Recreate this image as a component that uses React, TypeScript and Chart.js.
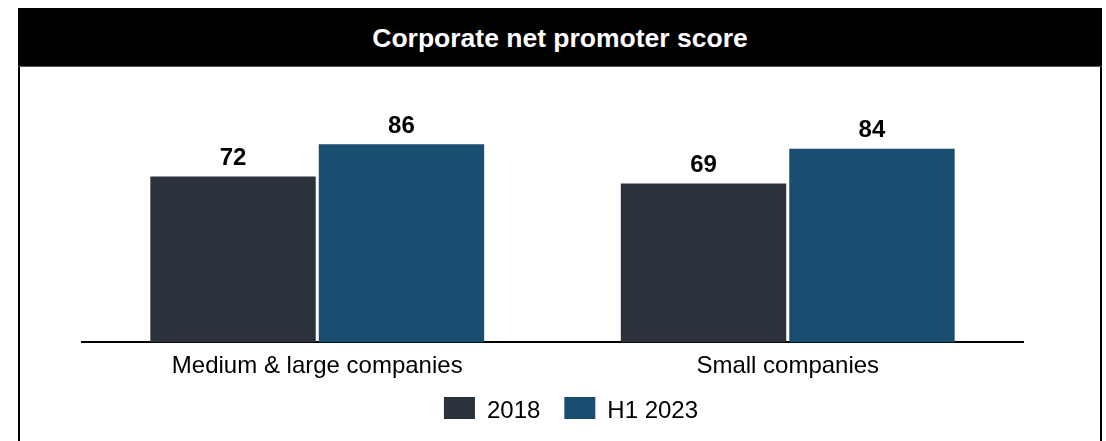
import React, { useEffect, useRef } from "react";
import { Chart, registerables } from "chart.js";

Chart.register(...registerables);

const TITLE = "Corporate net promoter score";
const categories = ["Medium & large companies", "Small companies"];
const seriesNames = ["2018", "H1 2023"];
const values2018 = [72, 69];
const valuesH12023 = [86, 84];
const seriesColors = ["#2b323b", "#1a4e70"];

const FONT = "'Liberation Sans', Arial, Helvetica, sans-serif";

const valueLabels = {
  id: "valueLabels",
  afterDatasetsDraw(chart: any) {
    const ctx = chart.ctx;
    ctx.save();
    ctx.font = `bold 24px ${FONT}`;
    ctx.fillStyle = "#000";
    ctx.textAlign = "center";
    ctx.textBaseline = "alphabetic";
    chart.data.datasets.forEach((ds: any, i: number) => {
      const meta = chart.getDatasetMeta(i);
      meta.data.forEach((bar: any, j: number) => {
        ctx.fillText(String(ds.data[j]), bar.x, bar.y - 11.5);
      });
    });
    ctx.restore();
  },
};

// Legend drawn on the canvas from the datasets (labels + colours)
const bottomLegend = {
  id: "bottomLegend",
  afterDraw(chart: any) {
    const ctx = chart.ctx;
    const boxW = 31;
    const boxH = 22;
    const gapText = 12;
    const gapItem = 24;
    ctx.save();
    ctx.font = `24px ${FONT}`;
    const items = chart.data.datasets.map((ds: any) => ({
      text: ds.label,
      color: ds.backgroundColor,
      w: ctx.measureText(ds.label).width,
    }));
    const total =
      items.reduce((s: number, it: any) => s + boxW + gapText + it.w, 0) +
      gapItem * (items.length - 1);
    const center = (chart.chartArea.left + chart.scales.y.right) / 2;
    let x = center - total / 2;
    const boxTop = chart.height - 44;
    const baseline = boxTop + 20.8;
    items.forEach((it: any) => {
      ctx.fillStyle = it.color;
      ctx.fillRect(x, boxTop, boxW, boxH);
      x += boxW + gapText;
      ctx.fillStyle = "#000";
      ctx.textAlign = "left";
      ctx.textBaseline = "alphabetic";
      ctx.fillText(it.text, x, baseline);
      x += it.w + gapItem;
    });
    ctx.restore();
  },
};

export default function App() {
  const ref = useRef<HTMLCanvasElement | null>(null);

  useEffect(() => {
    if (!ref.current) return;
    const chart = new Chart(ref.current, {
      type: "bar",
      data: {
        labels: categories,
        datasets: [
          {
            label: seriesNames[0],
            data: values2018,
            backgroundColor: seriesColors[0],
            borderWidth: 0,
            categoryPercentage: 0.716,
            barPercentage: 0.982,
          },
          {
            label: seriesNames[1],
            data: valuesH12023,
            backgroundColor: seriesColors[1],
            borderWidth: 0,
            categoryPercentage: 0.716,
            barPercentage: 0.982,
          },
        ],
      },
      options: {
        animation: false,
        responsive: false,
        maintainAspectRatio: false,
        layout: { padding: { top: 45, left: 62, right: 40, bottom: 51 } },
        plugins: {
          title: { display: false },
          tooltip: { enabled: false },
          legend: { display: false },
        },
        scales: {
          x: {
            grid: { display: false, drawTicks: false },
            border: { display: true, color: "#000", width: 2 },
            ticks: {
              color: "#000",
              padding: 10,
              font: { family: FONT, size: 24, lineHeight: 1.15 },
            },
          },
          y: {
            position: "right",
            min: 0,
            max: 100,
            grid: { display: false, drawTicks: false },
            border: { display: false },
            ticks: { display: false },
            afterFit: (scale: any) => {
              scale.width = 37;
            },
          },
        },
      },
      plugins: [valueLabels, bottomLegend],
    });
    return () => chart.destroy();
  }, []);

  return (
    <div
      style={{
        position: "fixed",
        left: 18,
        top: 8,
        width: 1084,
        height: 460,
        fontFamily: FONT,
      }}
    >
      <div
        style={{
          height: 59,
          background: "#000",
          color: "#fff",
          fontWeight: "bold",
          fontSize: 26.5,
          display: "flex",
          alignItems: "center",
          justifyContent: "center",
          paddingTop: 3,
          boxSizing: "border-box",
          borderBottom: "1px solid #555",
        }}
      >
        {TITLE}
      </div>
      <div
        style={{
          position: "absolute",
          left: 0,
          top: 59,
          width: 1084,
          height: 400,
          borderLeft: "2px solid #000",
          borderRight: "2px solid #000",
          boxSizing: "border-box",
          background: "#fff",
        }}
      >
        <canvas
          ref={ref}
          width={1080}
          height={374}
          style={{ display: "block", width: 1080, height: 374 }}
        />
      </div>
    </div>
  );
}
